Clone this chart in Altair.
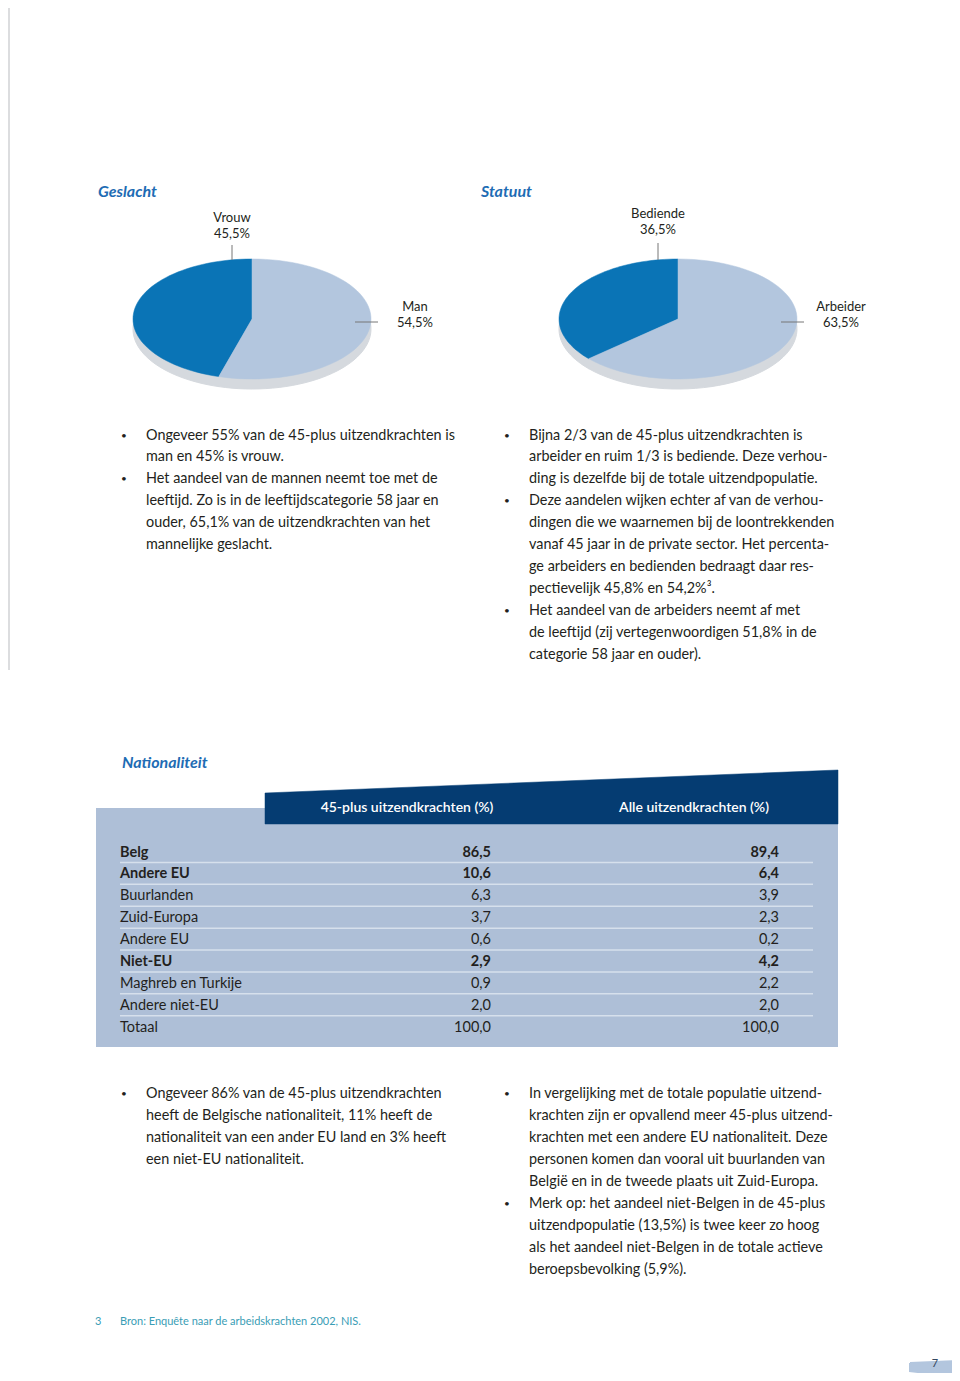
import altair as alt
import pandas as pd

# ---------------- data ----------------
gender_labels = ["Vrouw", "Man"]
gender_values = [45.5, 54.5]
status_labels = ["Bediende", "Arbeider"]
status_values = [36.5, 63.5]

nat_labels = ["Belg", "Andere EU", "Buurlanden", "Zuid-Europa", "Andere EU",
              "Niet-EU", "Maghreb en Turkije", "Andere niet-EU", "Totaal"]
nat_bold = [True, True, False, False, False, True, False, False, False]
plus45_values = [86.5, 10.6, 6.3, 3.7, 0.6, 2.9, 0.9, 2.0, 100.0]
all_values = [89.4, 6.4, 3.9, 2.3, 0.2, 4.2, 2.2, 2.0, 100.0]
table_headers = ["45-plus uitzendkrachten (%)", "Alle uitzendkrachten (%)"]

titles = ["Geslacht", "Statuut", "Nationaliteit"]

text_top_left = [
    "Ongeveer 55% van de 45-plus uitzendkrachten is",
    "man en 45% is vrouw.",
    "Het aandeel van de mannen neemt toe met de",
    "leeftijd. Zo is in de leeftijdscategorie 58 jaar en",
    "ouder, 65,1% van de uitzendkrachten van het",
    "mannelijke geslacht.",
]
bullets_top_left = [0, 2]
text_top_right = [
    "Bijna 2/3 van de 45-plus uitzendkrachten is",
    "arbeider en ruim 1/3 is bediende. Deze verhou-",
    "ding is dezelfde bij de totale uitzendpopulatie.",
    "Deze aandelen wijken echter af van de verhou-",
    "dingen die we waarnemen bij de loontrekkenden",
    "vanaf 45 jaar in de private sector. Het percenta-",
    "ge arbeiders en bedienden bedraagt daar res-",
    "pectievelijk 45,8% en 54,2%³.",
    "Het aandeel van de arbeiders neemt af met",
    "de leeftijd (zij vertegenwoordigen 51,8% in de",
    "categorie 58 jaar en ouder).",
]
bullets_top_right = [0, 3, 8]
text_bottom_left = [
    "Ongeveer 86% van de 45-plus uitzendkrachten",
    "heeft de Belgische nationaliteit, 11% heeft de",
    "nationaliteit van een ander EU land en 3% heeft",
    "een niet-EU nationaliteit.",
]
bullets_bottom_left = [0]
text_bottom_right = [
    "In vergelijking met de totale populatie uitzend-",
    "krachten zijn er opvallend meer 45-plus uitzend-",
    "krachten met een andere EU nationaliteit. Deze",
    "personen komen dan vooral uit buurlanden van",
    "België en in de tweede plaats uit Zuid-Europa.",
    "Merk op: het aandeel niet-Belgen in de 45-plus",
    "uitzendpopulatie (13,5%) is twee keer zo hoog",
    "als het aandeel niet-Belgen in de totale actieve",
    "beroepsbevolking (5,9%).",
]
bullets_bottom_right = [0, 5]
footnote_mark = "3"
footnote_text = "Bron: Enquête naar de arbeidskrachten 2002, NIS."
page_number = "7"

# ---------------- layout / style ----------------
W, H = 944, 1365
xs = alt.Scale(domain=[8, 952], range=[0, W])
ys = alt.Scale(domain=[8, 1373], range=[0, H])
FONT = "Lato"
BODY = "#231f20"
BLUE_T = "#1e6cb4"
DARK = "#0a74b6"
LIGHT = "#b3c6de"
SHADOW = "#d5d9de"
TABLE_BG = "#aebfd7"
NAVY = "#053c72"
TEAL = "#3a9db5"
RX, RY = 119, 60
NSEG = 60


def fmt(v, suffix=""):
    return f"{v:.1f}".replace(".", ",") + suffix


def X(f="x"):
    return alt.X(f"{f}:Q", scale=xs, axis=None)


def Y(f="y"):
    return alt.Y(f"{f}:Q", scale=ys, axis=None)


# ---------------- pies ----------------
slice_rows = []
for pid, (labs, vals, cx) in enumerate([(gender_labels, gender_values, 252),
                                         (status_labels, status_values, 678)]):
    for k, (l, v) in enumerate(zip(labs, vals)):
        slice_rows.append(dict(pie=pid, label=l, value=v, order=k, cx=cx, cy=319,
                               dark=(k == 0)))
slices = pd.DataFrame(slice_rows)
steps = pd.DataFrame(dict(idx=list(range(NSEG + 3))))
pie_df = slices.merge(steps, how="cross")

pie_base = alt.Chart(pie_df).transform_joinaggregate(
    total="sum(value)", groupby=["pie", "idx"]
).transform_window(
    cum="sum(value)", groupby=["pie", "idx"], sort=[alt.SortField("order")],
    frame=[None, 0]
).transform_calculate(
    f1="datum.cum / datum.total",
    f0="(datum.cum - datum.value) / datum.total",
    key="datum.pie + '_' + datum.order",
    t=f"clamp((datum.idx - 1) / {NSEG}, 0, 1)",
).transform_calculate(
    ang="PI / 2 + 2 * PI * (datum.f0 + datum.t * (datum.f1 - datum.f0))",
).transform_calculate(
    px=f"(datum.idx == 0 || datum.idx == {NSEG + 2}) ? datum.cx : datum.cx + {RX} * cos(datum.ang)",
    py=f"(datum.idx == 0 || datum.idx == {NSEG + 2}) ? datum.cy : datum.cy - {RY} * sin(datum.ang)",
).transform_calculate(
    py_sh="datum.py + 10"
)

pie_shadow = pie_base.mark_line(fill=SHADOW, stroke=SHADOW, strokeWidth=1).encode(
    x=X("px"), y=Y("py_sh"), order="idx:Q", detail="key:N")
pie_dark = pie_base.transform_filter("datum.dark").mark_line(
    fill=DARK, stroke=DARK, strokeWidth=0.5).encode(
    x=X("px"), y=Y("py"), order="idx:Q", detail="key:N")
pie_light = pie_base.transform_filter("!datum.dark").mark_line(
    fill=LIGHT, stroke=LIGHT, strokeWidth=0.5).encode(
    x=X("px"), y=Y("py"), order="idx:Q", detail="key:N")

# pie labels
lab_rows = []
for labs, vals, pos in [
    (gender_labels, gender_values, [(232, 218), (415, 307)]),
    (status_labels, status_values, [(658, 214), (841, 307)]),
]:
    for l, v, (x, y) in zip(labs, vals, pos):
        lab_rows.append(dict(x=x, y=y, text=l))
        lab_rows.append(dict(x=x, y=y + 15.5, text=fmt(v, "%")))
pie_labels = alt.Chart(pd.DataFrame(lab_rows)).mark_text(
    font=FONT, fontSize=13, color=BODY, align="center", baseline="middle"
).encode(x=X(), y=Y(), text="text:N")

leader_df = pd.DataFrame([
    dict(x=232, x2=232, y=245, y2=260),
    dict(x=355, x2=378, y=322, y2=322),
    dict(x=658, x2=658, y=243, y2=260),
    dict(x=781, x2=804, y=322, y2=322),
])
leaders = alt.Chart(leader_df).mark_rule(color="#777777", strokeWidth=1).encode(
    x=X(), x2="x2:Q", y=Y(), y2="y2:Q")

# ---------------- titles ----------------
title_df = pd.DataFrame(dict(text=titles, x=[98, 481, 122], y=[192, 192, 763]))
title_layer = alt.Chart(title_df).mark_text(
    font=FONT, fontSize=16, fontWeight="bold", fontStyle="italic", color=BLUE_T,
    align="left", baseline="middle").encode(x=X(), y=Y(), text="text:N")

# ---------------- body text ----------------
body_rows, bullet_rows = [], []
for lines, bl, x0, y0, lh in [
    (text_top_left, bullets_top_left, 146, 435.5, 21.9),
    (text_top_right, bullets_top_right, 529, 435.5, 21.9),
    (text_bottom_left, bullets_bottom_left, 146, 1093.5, 22.0),
    (text_bottom_right, bullets_bottom_right, 529, 1093.5, 22.0),
]:
    for i, s in enumerate(lines):
        body_rows.append(dict(x=x0, y=y0 + i * lh, text=s))
        if i in bl:
            bullet_rows.append(dict(x=x0 - 22, y=y0 + i * lh, text="•"))
body_layer = alt.Chart(pd.DataFrame(body_rows)).mark_text(
    font=FONT, fontSize=14.4, color=BODY, align="left", baseline="middle"
).encode(x=X(), y=Y(), text="text:N")
bullet_layer = alt.Chart(pd.DataFrame(bullet_rows)).mark_text(
    font=FONT, fontSize=10, color=BODY, align="center", baseline="middle"
).encode(x=X(), y=Y(), text="text:N")

# ---------------- table ----------------
bg = alt.Chart(pd.DataFrame([dict(x=96, x2=838, y=808, y2=1047)])).mark_rect(
    color=TABLE_BG).encode(x=X(), x2="x2:Q", y=Y(), y2="y2:Q")
band_df = pd.DataFrame(dict(x=[265, 838, 838, 265, 265], y=[793, 770, 824, 824, 793],
                            o=[0, 1, 2, 3, 4]))
band = alt.Chart(band_df).mark_line(fill=NAVY, stroke=NAVY, strokeWidth=0.5).encode(
    x=X(), y=Y(), order="o:Q")
head_df = pd.DataFrame(dict(text=table_headers, x=[407, 694], y=[807.5, 807.5]))
head = alt.Chart(head_df).mark_text(
    font=FONT, fontSize=14, fontWeight=600, color="white", align="center",
    baseline="middle").encode(x=X(), y=Y(), text="text:N")

row_y0, row_h = 852.5, 21.9
trows = []
for i, (l, b, v1, v2) in enumerate(zip(nat_labels, nat_bold, plus45_values, all_values)):
    trows.append(dict(y=row_y0 + i * row_h, label=l, bold=b,
                      v1=fmt(v1), v2=fmt(v2)))
tdf = pd.DataFrame(trows)
n_sep = len(nat_labels) - 1
sep_df = pd.DataFrame(dict(y=[row_y0 - 1 + (i + 0.5) * row_h for i in range(n_sep)],
                           x=[120] * n_sep, x2=[813] * n_sep))
seps = alt.Chart(sep_df).mark_rule(color="#d6e0ec", strokeWidth=1.5).encode(
    x=X(), x2="x2:Q", y=Y())

tlayers = []
for bold in [False, True]:
    sub = tdf[tdf.bold == bold].copy()
    sub["xl"] = 120
    sub["x1"] = 491
    sub["x2"] = 779
    w = "bold" if bold else "normal"
    base = alt.Chart(sub)
    tlayers.append(base.mark_text(font=FONT, fontSize=14.5, fontWeight=w, color=BODY,
                                  baseline="middle", align="left").encode(
        x=X("xl"), y=Y(), text="label:N"))
    tlayers.append(base.mark_text(font=FONT, fontSize=14.5, fontWeight=w, color=BODY,
                                  baseline="middle", align="right").encode(
        x=X("x1"), y=Y(), text="v1:N"))
    tlayers.append(base.mark_text(font=FONT, fontSize=14.5, fontWeight=w, color=BODY,
                                  baseline="middle", align="right").encode(
        x=X("x2"), y=Y(), text="v2:N"))

# ---------------- footnote / page ----------------
foot_df = pd.DataFrame(dict(text=[footnote_mark, footnote_text], x=[95, 120], y=[1322, 1322]))
foot = alt.Chart(foot_df).mark_text(font=FONT, fontSize=11, color=TEAL, align="left",
                                    baseline="middle").encode(x=X(), y=Y(), text="text:N")
tab_df = pd.DataFrame(dict(x=[910, 957, 957, 910, 910], y=[1363, 1361, 1377, 1371, 1363],
                           o=[0, 1, 2, 3, 4]))
tab = alt.Chart(tab_df).mark_line(fill=LIGHT, stroke=LIGHT).encode(x=X(), y=Y(), order="o:Q")
pnum = alt.Chart(pd.DataFrame(dict(text=[page_number], x=[935], y=[1364]))).mark_text(
    font=FONT, fontSize=11, color="#33475f", align="center", baseline="middle"
).encode(x=X(), y=Y(), text="text:N")

edge = alt.Chart(pd.DataFrame([dict(x=9, y=8, y2=670)])).mark_rule(
    color="#d0d2d4", strokeWidth=1.5).encode(x=X(), y=Y(), y2="y2:Q")

chart = alt.layer(
    edge, title_layer, pie_shadow, pie_dark, pie_light, leaders, pie_labels,
    bullet_layer, body_layer, bg, band, head, seps, *tlayers, foot, tab, pnum
).properties(
    width=W, height=H, padding=0, autosize=alt.AutoSizeParams(type="none"),
    background="white"
).configure_view(stroke=None)

chart.save("out.html", embed_options={"renderer": "svg", "actions": False})
